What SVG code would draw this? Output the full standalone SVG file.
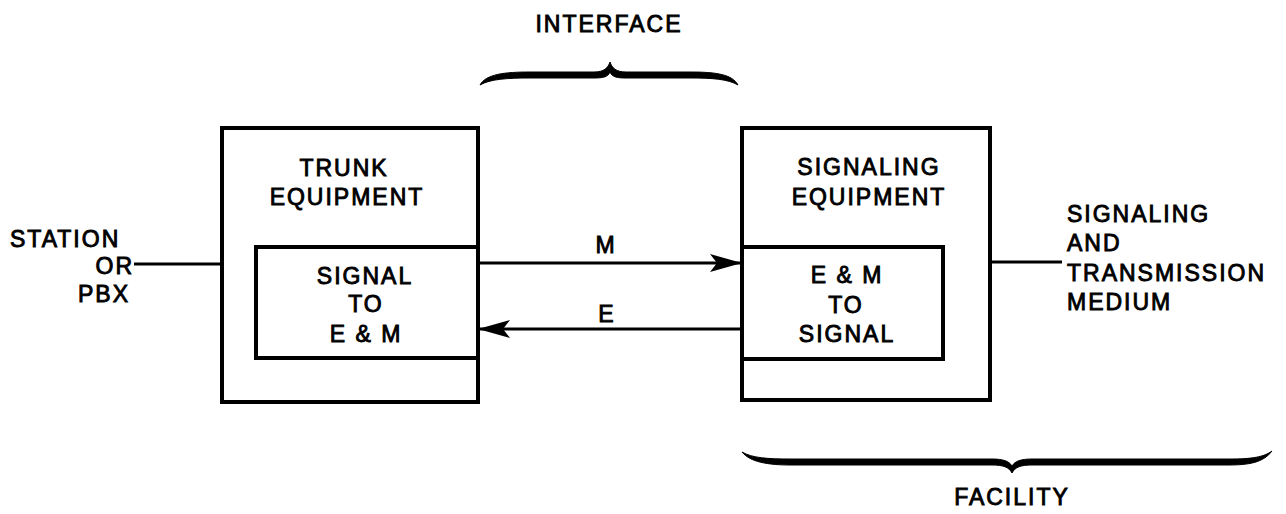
<svg xmlns="http://www.w3.org/2000/svg" width="1286" height="514" viewBox="0 0 1286 514">
<style>
.box{fill:none;stroke:#000;stroke-width:4}
.ln{fill:none;stroke:#000;stroke-width:3}
.brace{fill:#000;stroke:#000;stroke-width:1;stroke-linejoin:round}
text{font-family:"Liberation Sans",Arial,sans-serif;font-size:23px;letter-spacing:2px;fill:#000;stroke:#000;stroke-width:0.9}
.c{text-anchor:middle}
.r{text-anchor:end}
</style>
<defs>
<marker id="ah" markerUnits="userSpaceOnUse" markerWidth="34" markerHeight="22" refX="32" refY="11" orient="auto">
<path d="M0,2 L32,11 L0,20 L7,11 Z" fill="#000"/>
</marker>
</defs>
<g id="interface">
<text class="c" x="609" y="32">INTERFACE</text>
<path class="brace" d="M480,85 C486,74 505,72 530,72 L594,72 C604,72 608,68 610,62 C612,68 616,72 626,72 L690,72 C715,72 732,74 738,85 C728,79 712,78 690,78 L626,78 C617,78 612,77 610,72 C608,77 603,78 594,78 L530,78 C508,78 490,79 480,85 Z"/>
</g>
<g id="facility">
<path class="brace" d="M742,452 C752,458 768,459 790,459 L992,459 C1003,459 1009,461 1012,466 C1015,461 1021,459 1032,459 L1230,459 C1252,459 1264,457 1272,451 C1264,462 1250,465 1230,465 L1032,465 C1021,465 1015,467 1012,473 C1009,467 1003,465 992,465 L790,465 C768,465 750,462 742,452 Z"/>
<text class="c" x="1012" y="505">FACILITY</text>
</g>
<g id="station">
<text x="10" y="247">STATION</text>
<text class="r" x="134" y="274">OR</text>
<text class="r" x="130" y="302">PBX</text>
</g>
<g id="trunk">
<rect class="box" x="222" y="128" width="256" height="274"/>
<text class="c" x="344" y="176">TRUNK</text>
<text class="c" x="347" y="205">EQUIPMENT</text>
</g>
<g id="signal-to-em">
<rect class="box" x="256" y="247" width="222" height="111"/>
<text class="c" x="365" y="284">SIGNAL</text>
<text class="c" x="366" y="312">TO</text>
<text class="c" x="366" y="342">E &amp; M</text>
</g>
<g id="signaling">
<rect class="box" x="742" y="128" width="248" height="272"/>
<text class="c" x="869" y="175">SIGNALING</text>
<text class="c" x="869" y="205">EQUIPMENT</text>
</g>
<g id="em-to-signal">
<rect class="box" x="742" y="247" width="201" height="112"/>
<text class="c" x="847" y="283">E &amp; M</text>
<text class="c" x="846" y="313">TO</text>
<text class="c" x="847" y="342">SIGNAL</text>
</g>
<g id="medium">
<text x="1067" y="222">SIGNALING</text>
<text x="1067" y="251">AND</text>
<text x="1067" y="281">TRANSMISSION</text>
<text x="1067" y="310">MEDIUM</text>
</g>
<g id="connectors">
<line class="ln" x1="134" y1="264" x2="222" y2="264"/>
<line class="ln" x1="990" y1="262" x2="1062" y2="262"/>
<line class="ln" x1="478" y1="263" x2="742" y2="263" marker-end="url(#ah)"/>
<line class="ln" x1="742" y1="329" x2="478" y2="329" marker-end="url(#ah)"/>
<text class="c" x="606" y="253">M</text>
<text class="c" x="607" y="322">E</text>
</g>
</svg>
